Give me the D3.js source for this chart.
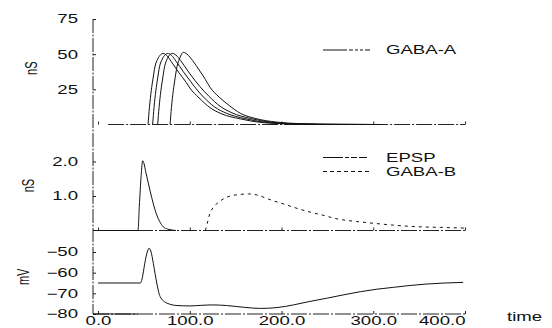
<!DOCTYPE html>
<html>
<head>
<meta charset="utf-8">
<script src="https://cdn.jsdelivr.net/npm/d3@7"></script>
<style>
  html, body { margin: 0; padding: 0; background: #fff; }
  svg { display: block; font-family: "Liberation Sans", Arial, sans-serif; }
  .lbl { font-size: 12px; fill: #111; }
  .ylab { font-size: 11px; fill: #111; }
  .trace { fill: none; stroke: #111; stroke-width: 1; }
  .base { fill: none; stroke: #222; stroke-width: 1; stroke-dasharray: 16,2,2,2; }
  .axis line { stroke: #222; }
  .axis .domain { display: none; }
</style>
</head>
<body>
<div id="chart"></div>
<script>
// ---- data: [time, value] ----
const T_TICKS = [0, 100, 200, 300, 400];
const T_LABELS = ["0.0", "100.0", "200.0", "300.0", "400.0"];
const NS_TOP_TICKS = [75, 50, 25];
const NS_MID_TICKS = [2.0, 1.0];
const MV_TICKS = [-50, -60, -70, -80];

// four GABA-A conductances (nS)
const gabaA1 = [[54.5,0],[56,12],[58,24],[60,33],[62,41],[65,46.5],[68,49.5],[71,50.5],[75,49],[80,44.5],[88,37],[96,30],[100,26],[110,19],[122,12],[135,7.5],[155,4],[177,1.5],[200,0.6],[240,0.1],[300,0]];
const gabaA2 = [[59.5,0],[61,12],[63,24],[65,33],[67,41],[70,46.5],[73,49.5],[76,50.5],[80,49.2],[85,45],[93,37.5],[101,30.5],[105,27],[115,19.5],[127,12.5],[140,8],[160,4.2],[182,1.6],[205,0.6],[245,0.1],[300,0]];
const gabaA3 = [[65,0],[66.5,12],[68.5,24],[70.5,33],[72.5,41],[75.5,46.8],[78.5,49.8],[81,50.6],[85,49.3],[90,45.5],[98,38],[106,31],[111,27],[121,20],[133,13],[146,8.3],[166,4.3],[188,1.7],[210,0.6],[250,0.1],[300,0]];
const gabaA4 = [[78.5,0],[80,12],[82,24],[84,33],[86,41],[89,47],[91,50],[93,51.3],[97,50],[103,45.5],[111,38],[117,32],[122,26.5],[132,19.5],[143,13.5],[155,8],[172,4.2],[195,1.7],[220,0.6],[260,0.1],[310,0]];
const GABA_A = [gabaA1, gabaA2, gabaA3, gabaA4];

// EPSP and GABA-B conductances (nS)
const epsp = [[-5.5,0],[43.5,0],[45,0.7],[47,1.6],[48.7,2.02],[50,1.95],[52,1.7],[55,1.35],[57,1.12],[60,0.8],[64,0.45],[67,0.27],[71,0.11],[76,0.04],[85,0]];
const gabaB = [[117,0],[119,0.2],[122,0.5],[126,0.68],[133,0.85],[144,1.0],[153,1.04],[164,1.06],[173,1.03],[184,0.93],[191,0.86],[200,0.79],[209,0.71],[226,0.57],[244,0.45],[262,0.33],[282,0.26],[300,0.21],[320,0.16],[340,0.12],[373,0.09],[400,0.07]];

// membrane potential (mV)
const vm = [[0,-65],[46,-65],[48,-63],[50,-58],[52,-53],[54,-49.5],[55.6,-48.2],[57.5,-49.5],[60.3,-55.6],[64,-65],[67.6,-71.5],[75,-74.7],[86,-75.9],[100,-76.1],[113,-75.8],[125,-75.6],[140,-75.9],[160,-76.8],[177,-77.3],[195,-76.9],[213,-75.6],[230,-74],[249,-72.4],[268,-70.7],[286,-69.2],[304,-68],[322,-67.1],[340,-66.2],[358,-65.5],[378,-65],[398,-64.7]];

// dash-dot baselines: [start time, end time, level]
const BASE_TOP = [11, 400, 0];
const BASE_MID = [-5.5, 400, 0];
const BASE_BOT = [-5.5, 400, -80];

const LEGEND = [
  { label: "GABA-A", dash: "24,2,4,2,3,2,3,2", panel: "top", pos: 0 },
  { label: "EPSP",   dash: "20,2,4,2,6,2,8",   panel: "mid", pos: 0 },
  { label: "GABA-B", dash: "4,3",              panel: "mid", pos: 1 }
];

// ---- layout ----
const W = 552, H = 328;
const SX = 1.55;   // the scanned figure is stretched sideways

const svg = d3.select("#chart").append("svg").attr("width", W).attr("height", H);

const x = d3.scaleLinear().domain([-5.5, 400]).range([93, 465]);
const yTop = d3.scaleLinear().domain([0, 75]).range([124.5, 19]);
const yMid = d3.scaleLinear().domain([0, 2]).range([230.5, 161.5]);
const yBot = d3.scaleLinear().domain([-80, -50]).range([314, 252]);

// shared vertical axis
svg.append("line").attr("class", "axis-v")
  .attr("x1", x(-5.5)).attr("x2", x(-5.5))
  .attr("y1", yTop(75)).attr("y2", yBot(-80))
  .attr("stroke", "#222").attr("stroke-dasharray", "14,1.5,2,1.5");

function yAxis(scale, ticks, fmt){
  const g = svg.append("g").attr("class", "axis lbl")
    .attr("transform", `translate(${x(-5.5)},0)`)
    .call(d3.axisLeft(scale).tickValues(ticks).tickSize(-3).tickFormat(fmt));
  g.selectAll("text").attr("x", 0)
    .attr("transform", `translate(-15,0) scale(${SX},1)`)
    .attr("font-size", 12).attr("font-family", null).attr("fill", "#111");
}
yAxis(yTop, NS_TOP_TICKS, d3.format("d"));
yAxis(yMid, NS_MID_TICKS, d3.format(".1f"));
yAxis(yBot, MV_TICKS, d3.format("d"));

// small up ticks on each baseline
function xTicks(scale, level, labels){
  const g = svg.append("g").attr("class", "axis lbl")
    .attr("transform", `translate(0,${scale(level)})`)
    .call(d3.axisBottom(x).tickValues(T_TICKS).tickSize(-3).tickPadding(2.5)
      .tickFormat((d, i) => labels ? T_LABELS[i] : ""));
  g.selectAll("text").attr("transform", `scale(${SX},1)`)
    .attr("font-size", 12).attr("font-family", null).attr("fill", "#111");
  if (labels) g.selectAll(".tick:last-of-type text").attr("text-anchor", "end");
}
xTicks(yTop, 0, false);
xTicks(yMid, 0, false);
xTicks(yBot, -80, true);

// baselines
[[BASE_TOP, yTop], [BASE_MID, yMid], [BASE_BOT, yBot]].forEach(([b, s]) => {
  svg.append("line").attr("class", "base")
    .attr("x1", x(b[0])).attr("x2", x(b[1]))
    .attr("y1", s(b[2])).attr("y2", s(b[2]));
});
// solid lead-in on the bottom baseline
svg.append("line").attr("class", "trace").attr("stroke-width", 1.4)
  .attr("x1", x(-5.5)).attr("x2", x(43.5)).attr("y1", yBot(-80)).attr("y2", yBot(-80));

// traces
const lineOf = s => d3.line().x(d => x(d[0])).y(d => s(d[1])).curve(d3.curveMonotoneX);

svg.selectAll(".gabaA").data(GABA_A).join("path")
  .attr("class", "trace gabaA").attr("d", lineOf(yTop));
svg.append("path").attr("class", "trace").attr("d", lineOf(yMid)(epsp));
svg.append("path").attr("class", "trace").attr("stroke-dasharray", "3,4").attr("d", lineOf(yMid)(gabaB));
svg.append("path").attr("class", "trace").attr("d", lineOf(yBot)(vm));

// rotated unit labels
[["nS", 31, yTop(40)], ["nS", 28, yMid(1.3)], ["mV", 23, yBot(-62)]].forEach(([t, px, py]) => {
  svg.append("text").attr("class", "ylab")
    .attr("transform", `translate(${px},${py}) scale(1.45,1) rotate(-90)`)
    .attr("text-anchor", "middle").attr("dy", "0.35em").text(t);
});

// x title
svg.append("text").attr("class", "lbl")
  .attr("transform", `translate(507,321) scale(${SX},1)`).text("time");

// legend
const LEG_Y = { top: [50], mid: [157.5, 171.5] };
LEGEND.forEach(d => {
  const ly = LEG_Y[d.panel][d.pos];
  svg.append("line").attr("class", "trace").attr("stroke-dasharray", d.dash)
    .attr("x1", 323).attr("x2", 370).attr("y1", ly).attr("y2", ly);
  svg.append("text").attr("class", "lbl")
    .attr("transform", `translate(386,${ly}) scale(${SX},1)`)
    .attr("dy", "0.36em").text(d.label);
});
</script>
</body>
</html>
